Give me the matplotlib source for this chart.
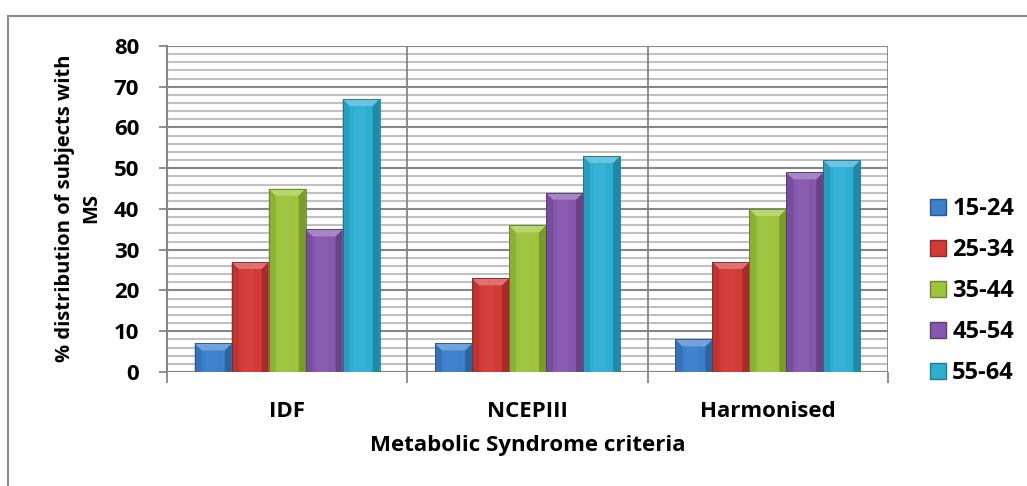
import matplotlib
matplotlib.use("Agg")
import matplotlib.pyplot as plt
import matplotlib.colors as mcolors
from matplotlib.patches import Polygon, Rectangle, Patch
import numpy as np

# Data
criteria = ["IDF", "NCEPIII", "Harmonised"]
age_groups = ["15-24", "25-34", "35-44", "45-54", "55-64"]
age_15_24 = [7, 7, 8]
age_25_34 = [27, 23, 27]
age_35_44 = [45, 36, 40]
age_45_54 = [35, 44, 49]
age_55_64 = [67, 53, 52]
series = [age_15_24, age_25_34, age_35_44, age_45_54, age_55_64]
colors = ["#3c7fcb", "#d23a36", "#9cc43c", "#8557ad", "#2eaed3"]

plt.rcParams["font.family"] = ["Open Sans", "DejaVu Sans"]
plt.rcParams["font.weight"] = "bold"

W, H = 1027, 486
fig = plt.figure(figsize=(W / 100, H / 100), dpi=100)
fig.patch.set_facecolor("white")

# outer chart border
fig.patches.append(Rectangle((8 / W, -0.1), 1.2, (H - 16) / H + 0.1,
                             transform=fig.transFigure, fill=False,
                             edgecolor="#8c8c8c", linewidth=1.5))

left, right, top, bottom = 167, 888, 46, 372
ax = fig.add_axes([left / W, 1 - bottom / H, (right - left) / W, (bottom - top) / H])
ax.set_xlim(-0.5, 2.5)
ax.set_ylim(0, 80)

px_x = (right - left) / 3.0
px_y = (bottom - top) / 80.0

n = len(series)
bw = 1 / 6.5
x = np.arange(len(criteria))


def shade(c, f):
    r, g, b = mcolors.to_rgb(c)
    if f >= 0:
        return (r + (1 - r) * f, g + (1 - g) * f, b + (1 - b) * f)
    return (r * (1 + f), g * (1 + f), b * (1 + f))


def bevel_bar(x0, w, h, c):
    bx = 7 / px_x
    by = min(7 / px_y, h / 2)
    ax.add_patch(Rectangle((x0, 0), w, h, facecolor=c, edgecolor="none", zorder=3))
    ax.add_patch(Rectangle((x0 + w * 0.3, 0), w * 0.3, h - by, facecolor=shade(c, 0.035),
                           edgecolor="none", zorder=3.5))
    ax.add_patch(Polygon([(x0, 0), (x0, h), (x0 + bx, h - by), (x0 + bx, 0)],
                         closed=True, facecolor=shade(c, -0.1), edgecolor="none", zorder=4))
    ax.add_patch(Polygon([(x0 + w, 0), (x0 + w, h), (x0 + w - bx, h - by), (x0 + w - bx, 0)],
                         closed=True, facecolor=shade(c, -0.22), edgecolor="none", zorder=4))
    ax.add_patch(Polygon([(x0, h), (x0 + w, h), (x0 + w - bx, h - by), (x0 + bx, h - by)],
                         closed=True, facecolor=shade(c, 0.28), edgecolor="none", zorder=4))
    ax.add_patch(Rectangle((x0, 0), w, h, facecolor="none", edgecolor=shade(c, -0.35),
                           linewidth=0.6, zorder=5))


for i, (vals, c) in enumerate(zip(series, colors)):
    offs = (i - (n - 1) / 2) * bw
    for xi, v in zip(x, vals):
        bevel_bar(xi + offs - bw / 2, bw, v, c)

# grid
for s in ["top", "right", "bottom"]:
    ax.spines[s].set_visible(False)
ax.spines["left"].set_color("#868686")
ax.spines["left"].set_linewidth(1.5)
ax.set_yticks(np.arange(0, 81, 10))
ax.set_yticks(np.arange(0, 81, 2), minor=True)
ax.grid(axis="y", which="minor", color="#c0c0c0", linewidth=1.5, zorder=0)
ax.grid(axis="y", which="major", color="#868686", linewidth=1.5, zorder=1)
ax.set_axisbelow(True)
for xb in [0.5, 1.5, 2.5]:
    ax.axvline(xb, color="#868686", linewidth=1.3, zorder=1)
ax.axhline(0, color="#868686", linewidth=1.5, zorder=2)

ax.tick_params(axis="y", which="major", length=6, width=1.3, color="#868686",
               pad=14, labelsize=16)
ax.tick_params(axis="y", which="minor", length=0)
ax.set_xticks(x, criteria)
ax.set_xticks([-0.5, 0.5, 1.5, 2.5], minor=True)
ax.tick_params(axis="x", which="major", length=0, pad=21, labelsize=16)
ax.tick_params(axis="x", which="minor", length=8, width=1.3, color="#868686")
for lab in ax.get_xticklabels() + ax.get_yticklabels():
    lab.set_fontweight("bold")

fig.text(527.5 / W, 1 - 445 / H, "Metabolic Syndrome criteria", ha="center", va="center",
         fontsize=16, fontweight="bold")
fig.text(78 / W, 1 - 208 / H, "% distribution of subjects with\nMS", ha="center",
         va="center", rotation=90, fontsize=14.5, fontweight="bold", linespacing=1.4,
         multialignment="center")

handles = [Patch(facecolor=c, edgecolor=shade(c, -0.3)) for c in colors]
leg = fig.legend(handles, age_groups, loc="center left",
                 bbox_to_anchor=(909 / W, 1 - 291 / H), frameon=False,
                 prop={"weight": "bold", "size": 17}, handlelength=0.68, handleheight=0.68,
                 handletextpad=0.25, labelspacing=0.72)

fig.savefig("out.png", dpi=100, facecolor="white")
